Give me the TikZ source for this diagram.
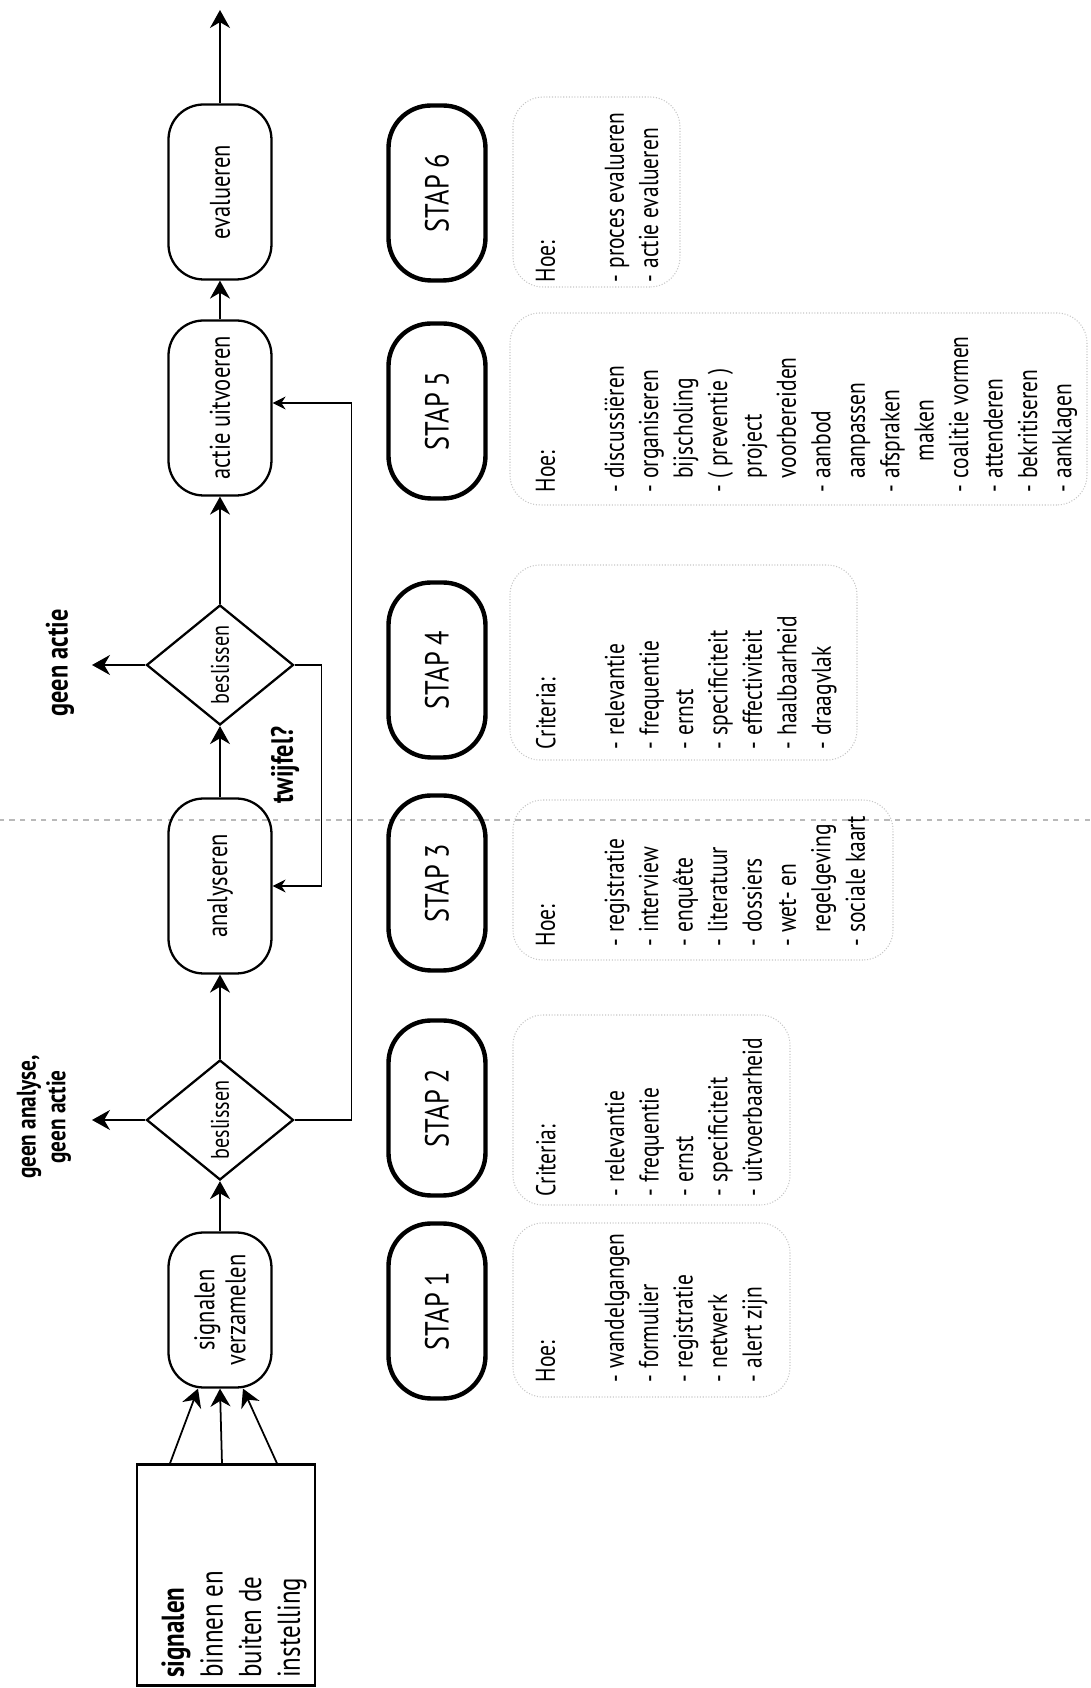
\documentclass[tikz,border=0pt]{standalone}
\usepackage{fontspec}
\setmainfont{PT Sans}[FakeStretch=0.79]
\usetikzlibrary{arrows.meta, shapes.geometric, positioning, calc}

\begin{document}
\begin{tikzpicture}[
    x=0.02cm, y=0.02cm, rotate=90, transform shape,
    line width=1pt,
    >={Stealth[length=0.36cm, width=0.4cm]},
    flow/.style={
        rectangle, rounded corners=0.7cm, draw, line width=1.3pt,
        minimum width=3.5cm, minimum height=2.06cm, inner sep=0pt,
        align=center, font=\fontsize{16.2}{17.6}\selectfont
    },
    dec/.style={
        diamond, draw, line width=1.3pt, minimum width=2.4cm,
        minimum height=2.94cm, inner sep=0pt, font=\fontsize{14.5}{17}\selectfont
    },
    stap/.style={
        rectangle, rounded corners=0.85cm, draw, line width=2.5pt,
        minimum width=3.5cm, minimum height=1.94cm, font=\fontsize{19}{22}\selectfont
    },
    list/.style={anchor=north west, align=left, inner sep=0pt, font=\fontsize{15.5}{19.6}\selectfont},
    lbl/.style={align=center, inner sep=0pt, font=\bfseries\fontsize{17.5}{18.5}\selectfont},
    fb/.style={line width=0.75pt, -{Stealth[length=0.26cm, width=0.26cm]}},
    dotbox/.style={draw=gray!45, densely dotted, line width=0.6pt, rounded corners=0.6cm},
    fold/.style={draw=gray!55, dashed, line width=0.8pt}
]
\useasboundingbox (0,0) rectangle (1688,1090);

% faint frames round the lists
\draw[dotbox] (291,300) rectangle (465,577);
\draw[dotbox] (483,300) rectangle (673,577);
\draw[dotbox] (728,197) rectangle (888,577);
\draw[dotbox] (928,233) rectangle (1123,580);
\draw[dotbox] (1183,3) rectangle (1375,580);
\draw[dotbox] (1401,410) rectangle (1591,577);
\draw[fold] (868,0) -- (868,1090);

% flow
\node[draw, line width=1.3pt, minimum width=4.42cm, minimum height=3.56cm] (sig) at (113,864) {};
\node[anchor=west, align=left, inner sep=0pt, font=\fontsize{18}{22}\selectfont]
      (sigtxt) at ($(sig.west)+(8,-8)$)
      {\textbf{signalen}\\binnen en\\buiten de\\instelling};
\node[flow, minimum width=3.1cm] (verz) at (378,870) {signalen\\verzamelen};
\node[dec] (d1) at (568,870) {beslissen};
\node[flow] (ana) at (802,870) {analyseren};
\node[dec] (d2) at (1023,870) {beslissen};
\node[flow] (act) at (1280,870) {actie uitvoeren};
\node[flow] (eval) at (1496,870) {evalueren};

\coordinate (out1) at (568,998);
\coordinate (out2) at (1023,998);
\coordinate (end) at (1678,870);

\node[lbl, font=\bfseries\fontsize{15.3}{17}\selectfont] (ga) at (571,1046) {geen analyse,\\geen actie};
\node[lbl] (gb) at (1025,1030) {geen actie};
\node[lbl] (tw) at (923,805) {twijfel?};

% steps
\node[stap] (s1) at (377,653) {STAP 1};
\node[stap] (s2) at (580,653) {STAP 2};
\node[stap] (s3) at (805,653) {STAP 3};
\node[stap] (s4) at (1018,653) {STAP 4};
\node[stap] (s5) at (1277,653) {STAP 5};
\node[stap] (s6) at (1495,653) {STAP 6};

\node[list] (l1) at (305,555) {Hoe:\\[19.6pt]- wandelgangen\\- formulier\\- registratie\\- netwerk\\- alert zijn};
\node[list] (l2) at (491,555) {Criteria:\\[19.6pt]- relevantie\\- frequentie\\- ernst\\- specificiteit\\- uitvoerbaarheid};
\node[list] (l3) at (741,555) {Hoe:\\[19.6pt]- registratie\\- interview\\- enquête\\- literatuur\\- dossiers\\- wet- en\\\hphantom{- }regelgeving\\- sociale kaart};
\node[list] (l4) at (938,555) {Criteria:\\[19.6pt]- relevantie\\- frequentie\\- ernst\\- specificiteit\\- effectiviteit\\- haalbaarheid\\- draagvlak};
\node[list] (l5) at (1195,555) {Hoe:\\[19.6pt]- discussiëren\\- organiseren\\\hphantom{- }bijscholing\\- ( preventie )\\\hphantom{- }project\\\hphantom{- }voorbereiden\\- aanbod\\\hphantom{- }aanpassen\\- afspraken\\\hphantom{- af}maken\\- coalitie vormen\\- attenderen\\- bekritiseren\\- aanklagen};
\node[list] (l6) at (1405,555) {Hoe:\\[19.6pt]- proces evalueren\\- actie evalueren};

% connectors
\foreach \s/\t in {56/22, 4/0, -51/-23}
    \draw[->] ($(sig.east)+(0,\s)$) -- ($(verz.west)+(0,\t)$);
\draw[->] (verz) -- (d1);
\draw[->] (d1) -- (ana);
\draw[->] (ana) -- (d2);
\draw[->] (d2) -- (act);
\draw[->] (act) -- (eval);
\draw[->] (eval) -- (end);
\draw[->] (d1.north) -- (out1);
\draw[->] (d2.north) -- (out2);
\draw[fb] (d1.south) -- ++(0,-57) -| ($(act.south)+(5,0)$);
\draw[fb] (d2.south) -- ++(0,-27) -| (ana.south);

\end{tikzpicture}
\end{document}
